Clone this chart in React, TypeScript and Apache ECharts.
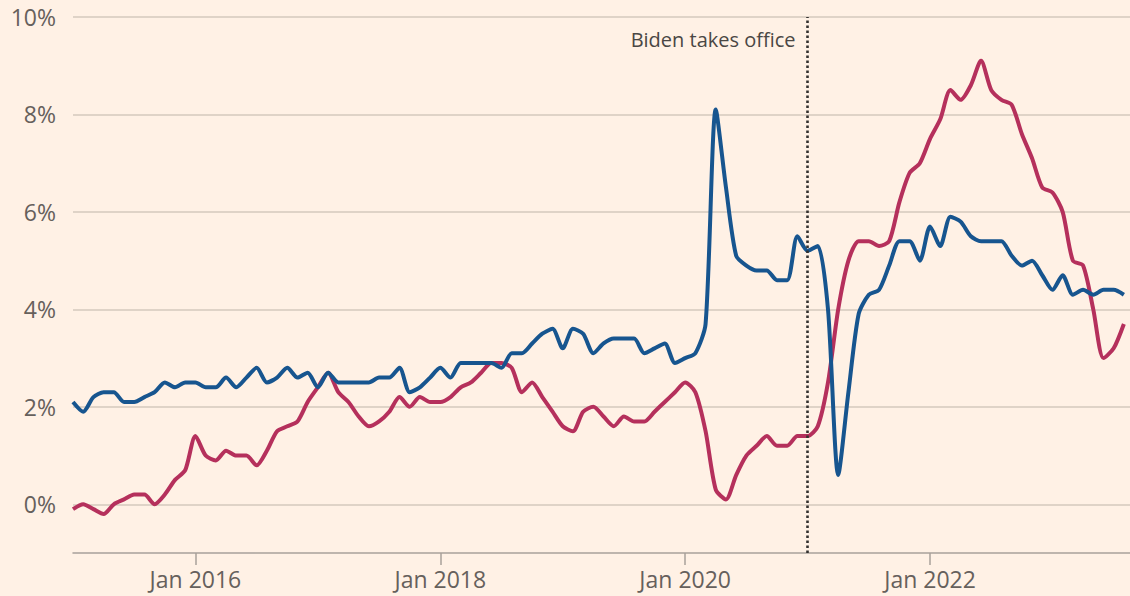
import React, { useEffect, useRef } from "react";
import * as echarts from "echarts";

// Monthly series, Jan 2015 (index 0) to Aug 2023 (index 103)
const blueSeries: number[] = [
  2.1, 1.9, 2.2, 2.3, 2.3, 2.1, 2.1, 2.2, 2.3, 2.5, 2.4, 2.5,
  2.5, 2.4, 2.4, 2.6, 2.4, 2.6, 2.8, 2.5, 2.6, 2.8, 2.6, 2.7,
  2.4, 2.7, 2.5, 2.5, 2.5, 2.5, 2.6, 2.6, 2.8, 2.3, 2.4, 2.6,
  2.8, 2.6, 2.9, 2.9, 2.9, 2.9, 2.8, 3.1, 3.1, 3.3, 3.5, 3.6,
  3.2, 3.6, 3.5, 3.1, 3.3, 3.4, 3.4, 3.4, 3.1, 3.2, 3.3, 2.9,
  3.0, 3.1, 3.7, 8.1, 6.5, 5.1, 4.9, 4.8, 4.8, 4.6, 4.6, 5.5,
  5.2, 5.3, 4.0, 0.6, 2.3, 3.9, 4.3, 4.4, 4.9, 5.4, 5.4, 5.0,
  5.7, 5.3, 5.9, 5.8, 5.5, 5.4, 5.4, 5.4, 5.1, 4.9, 5.0, 4.7,
  4.4, 4.7, 4.3, 4.4, 4.3, 4.4, 4.4, 4.3,
];
const redSeries: number[] = [
  -0.1, 0.0, -0.1, -0.2, 0.0, 0.1, 0.2, 0.2, 0.0, 0.2, 0.5, 0.7,
  1.4, 1.0, 0.9, 1.1, 1.0, 1.0, 0.8, 1.1, 1.5, 1.6, 1.7, 2.1,
  2.4, 2.7, 2.3, 2.1, 1.8, 1.6, 1.7, 1.9, 2.2, 2.0, 2.2, 2.1,
  2.1, 2.2, 2.4, 2.5, 2.7, 2.9, 2.9, 2.8, 2.3, 2.5, 2.2, 1.9,
  1.6, 1.5, 1.9, 2.0, 1.8, 1.6, 1.8, 1.7, 1.7, 1.9, 2.1, 2.3,
  2.5, 2.3, 1.5, 0.3, 0.1, 0.6, 1.0, 1.2, 1.4, 1.2, 1.2, 1.4,
  1.4, 1.6, 2.5, 4.0, 5.0, 5.4, 5.4, 5.3, 5.4, 6.2, 6.8, 7.0,
  7.5, 7.9, 8.5, 8.3, 8.6, 9.1, 8.5, 8.3, 8.2, 7.6, 7.1, 6.5,
  6.4, 6.0, 5.0, 4.9, 4.0, 3.0, 3.2, 3.7,
];
const xTickMonths: number[] = [12, 36, 60, 84];
const xTickLabels: string[] = ["Jan 2016", "Jan 2018", "Jan 2020", "Jan 2022"];
const yMin = -1;
const yMax = 10;
const xMax = 103.6;
const bidenMonth = 72;
const bidenLabel = "Biden takes office";

const BLUE = "#17558f";
const RED = "#b5305c";
const BG = "#FFF1E5";
const FONT = "'Open Sans', sans-serif";

export default function App() {
  const ref = useRef<HTMLDivElement | null>(null);

  useEffect(() => {
    document.body.style.margin = "0";
    if (!ref.current) return;
    const chart = echarts.init(ref.current, undefined, { renderer: "svg" });
    const toPairs = (arr: number[]) => arr.map((v, i) => [i, v]);
    chart.setOption({
      animation: false,
      backgroundColor: BG,
      grid: { left: 73, right: 0, top: 17, bottom: 43, containLabel: false },
      xAxis: {
        type: "value",
        min: 0,
        max: xMax,
        axisLine: {
          show: true,
          onZero: false,
          lineStyle: { color: "#a8a09a", width: 1.5 },
        },
        axisTick: {
          show: true,
          length: 12,
          customValues: xTickMonths,
          lineStyle: { color: "#a8a09a", width: 1.5 },
        },
        axisLabel: {
          customValues: xTickMonths,
          margin: 14,
          color: "#66605c",
          fontFamily: FONT,
          fontSize: 23,
          formatter: (v: number) => {
            const i = xTickMonths.indexOf(Math.round(v));
            return i >= 0 ? xTickLabels[i] : "";
          },
        },
        splitLine: { show: false },
      },
      yAxis: {
        type: "value",
        min: yMin,
        max: yMax,
        interval: 1,
        axisLine: { show: false },
        axisTick: { show: false },
        axisLabel: {
          margin: 17,
          color: "#66605c",
          fontFamily: FONT,
          fontSize: 23,
          formatter: (v: number) => (v >= 0 && v % 2 === 0 ? `${v}%` : ""),
        },
        splitLine: {
          show: true,
          lineStyle: { color: ["rgba(0,0,0,0)", "#d5c9bd"], width: 1.5 },
        },
      },
      series: [
        {
          type: "line",
          name: "red",
          data: toPairs(redSeries),
          showSymbol: false,
          smooth: 0.25,
          lineStyle: { color: RED, width: 4 },
          z: 3,
        },
        {
          type: "line",
          name: "blue",
          data: toPairs(blueSeries),
          showSymbol: false,
          smooth: 0.25,
          lineStyle: { color: BLUE, width: 4 },
          z: 4,
          markLine: {
            silent: true,
            symbol: ["none", "none"],
            label: { show: false },
            lineStyle: { color: "#33302e", width: 2.6, type: [2.4, 2.6] },
            data: [{ xAxis: bidenMonth }],
          },
        },
      ],
    });
    const p = chart.convertToPixel({ gridIndex: 0 }, [bidenMonth, 9.53]) as number[];
    chart.setOption({
      graphic: [
        {
          type: "text",
          x: p[0] - 12,
          y: p[1],
          silent: true,
          style: {
            text: bidenLabel,
            align: "right",
            verticalAlign: "middle",
            fill: "#4a4744",
            fontFamily: FONT,
            fontSize: 20,
          },
        },
      ],
    });
    return () => chart.dispose();
  }, []);

  return (
    <div
      ref={ref}
      style={{ width: 1130, height: 596, background: BG }}
    />
  );
}
